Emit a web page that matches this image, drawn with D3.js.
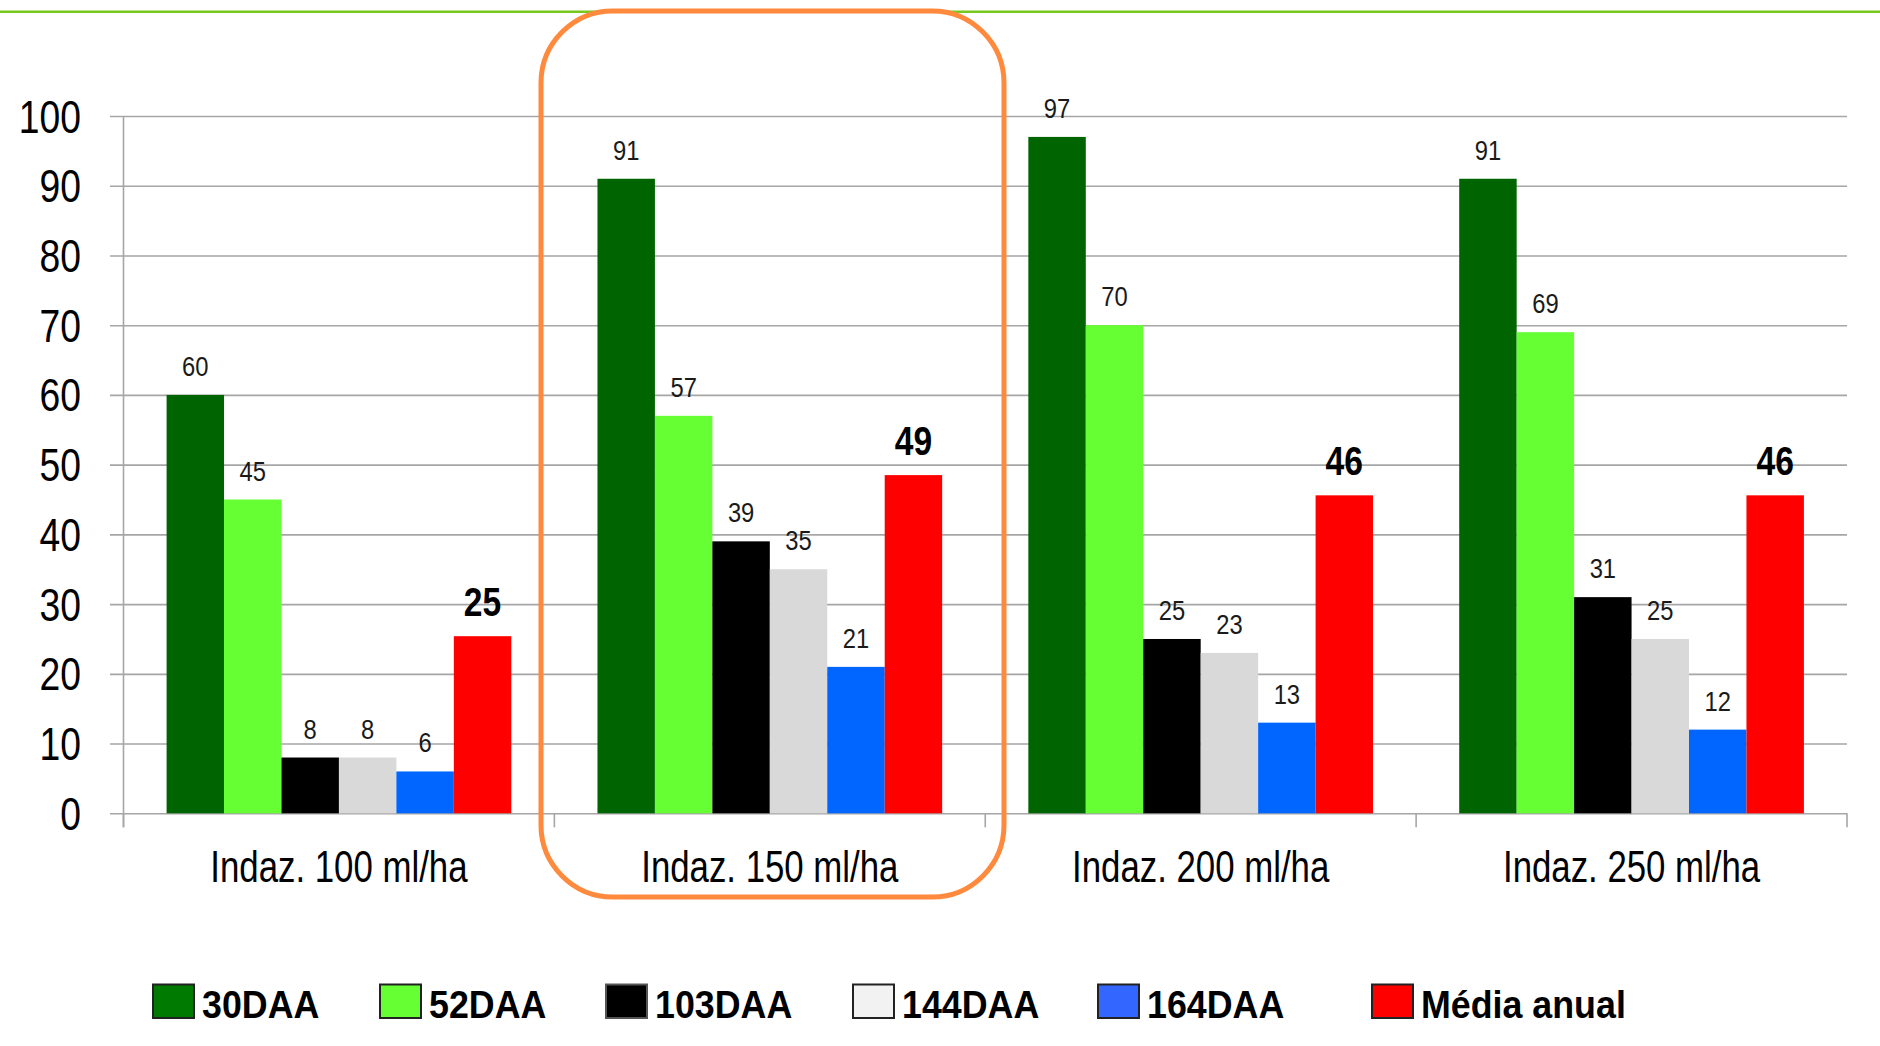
<!DOCTYPE html>
<html>
<head>
<meta charset="utf-8">
<script src="https://cdn.jsdelivr.net/npm/d3@7"></script>
<style>
  html, body { margin: 0; padding: 0; background: #fff; }
  svg { display: block; }
  text { font-family: "Liberation Sans", Arial, sans-serif; }
</style>
</head>
<body>
<svg id="chart" width="1880" height="1046"></svg>
<script>
// ---------------- DATA ----------------
const categories = ["Indaz. 100 ml/ha", "Indaz. 150 ml/ha", "Indaz. 200 ml/ha", "Indaz. 250 ml/ha"];
const seriesNames = ["30DAA", "52DAA", "103DAA", "144DAA", "164DAA", "Média anual"];
const s30DAA  = [60, 91, 97, 91];
const s52DAA  = [45, 57, 70, 69];
const s103DAA = [8, 39, 25, 31];
const s144DAA = [8, 35, 23, 25];
const s164DAA = [6, 21, 13, 12];
const mediaAnual = [25.4, 48.5, 45.6, 45.6];
const yTickValues = [0, 10, 20, 30, 40, 50, 60, 70, 80, 90, 100];

// ---------------- STYLE / LAYOUT ----------------
const barColors    = ["#006400", "#66FF33", "#000000", "#D9D9D9", "#0066FF", "#FF0000"];
const legendColors = ["#007A00", "#66FF33", "#000000", "#F2F2F2", "#3366FF", "#FF0000"];
const legendX = [153, 380, 606, 853, 1098, 1372];
const axisX = 123.5, plotRight = 1847, yTop = 116, yBottom = 813.3;
const fmt = d3.format(".0f");

const seriesValues = [s30DAA, s52DAA, s103DAA, s144DAA, s164DAA, mediaAnual];
const rows = categories.map((c, i) => ({
  cat: c,
  vals: seriesNames.map((s, j) => ({ series: s, idx: j, value: seriesValues[j][i] }))
}));

const svg = d3.select("#chart");
svg.append("rect").attr("width", 1880).attr("height", 1046).attr("fill", "#fff");

// top green line
svg.append("line").attr("x1", 0).attr("x2", 1880).attr("y1", 11.8).attr("y2", 11.8)
  .attr("stroke", "#76C81E").attr("stroke-width", 2.5);

const y = d3.scaleLinear().domain([0, 100]).range([yBottom, yTop]);
const x0 = d3.scaleBand().domain(categories).range([axisX, plotRight])
  .paddingInner(0.2).paddingOuter(0.1);
const x1 = d3.scaleBand().domain(seriesNames).range([0, x0.bandwidth()]).padding(0);

// gridlines (with left stubs)
const grid = svg.append("g").attr("transform", `translate(${plotRight},0)`)
  .call(d3.axisLeft(y).tickValues(yTickValues).tickSize(plotRight - 110).tickFormat(""));
grid.select(".domain").remove();
grid.selectAll(".tick line").attr("stroke", "#A6A6A6").attr("stroke-width", 1.6);

// y axis vertical line
svg.append("line").attr("x1", axisX).attr("x2", axisX).attr("y1", yTop).attr("y2", yBottom + 14)
  .attr("stroke", "#A6A6A6").attr("stroke-width", 1.6);

// category boundary ticks
const step = x0.step();
const bounds = categories.map(c => x0(c) - step * 0.1).concat([plotRight]);
svg.append("g").selectAll("line").data(bounds).join("line")
  .attr("x1", d => d).attr("x2", d => d).attr("y1", yBottom).attr("y2", yBottom + 14)
  .attr("stroke", "#A6A6A6").attr("stroke-width", 1.6);

// y tick labels
svg.append("g").selectAll("text").data(yTickValues).join("text")
  .attr("transform", d => `translate(81,${y(d) + 16.5}) scale(0.81,1)`)
  .attr("text-anchor", "end").attr("font-size", 46).attr("fill", "#000")
  .text(d => d);

// bars
const groups = svg.append("g").selectAll("g").data(rows).join("g")
  .attr("transform", d => `translate(${x0(d.cat)},0)`);
groups.selectAll("rect").data(d => d.vals).join("rect")
  .attr("x", d => x1(d.series)).attr("width", x1.bandwidth())
  .attr("y", d => y(d.value)).attr("height", d => y(0) - y(d.value))
  .attr("fill", d => barColors[d.idx]);

// value labels
groups.selectAll("text").data(d => d.vals).join("text")
  .attr("transform", d => {
    const cx = x1(d.series) + x1.bandwidth() / 2;
    const bold = d.idx === 5;
    return `translate(${cx},${y(d.value) - (bold ? 20.5 : 19)}) scale(${bold ? 0.82 : 0.88},1)`;
  })
  .attr("text-anchor", "middle")
  .attr("font-size", d => d.idx === 5 ? 41 : 27)
  .attr("font-weight", d => d.idx === 5 ? "bold" : "normal")
  .attr("fill", d => d.idx === 5 ? "#000" : "#1a1a1a")
  .text(d => fmt(d.value));

// category labels
svg.append("g").selectAll("text").data(categories).join("text")
  .attr("transform", d => `translate(${x0(d) + x0.bandwidth() / 2},882) scale(0.8,1)`)
  .attr("text-anchor", "middle").attr("font-size", 43.5).attr("fill", "#000")
  .text(d => d);

// legend
const leg = svg.append("g").selectAll("g").data(seriesNames).join("g")
  .attr("transform", (d, i) => `translate(${legendX[i]},984.5)`);
leg.append("rect").attr("width", 41).attr("height", 33.5)
  .attr("fill", (d, i) => legendColors[i])
  .attr("stroke", (d, i) => i === 2 ? "#555" : "#222").attr("stroke-width", 2);
leg.append("text")
  .attr("transform", "translate(49,33) scale(0.93,1)")
  .attr("font-size", 38.5).attr("font-weight", "bold").attr("fill", "#000")
  .text(d => d);

// orange highlight rounded rectangle
svg.append("rect").attr("x", 541).attr("y", 11).attr("width", 463).attr("height", 886)
  .attr("rx", 72).attr("ry", 72).attr("fill", "none")
  .attr("stroke", "#FF8A3D").attr("stroke-width", 5);
</script>
</body>
</html>
